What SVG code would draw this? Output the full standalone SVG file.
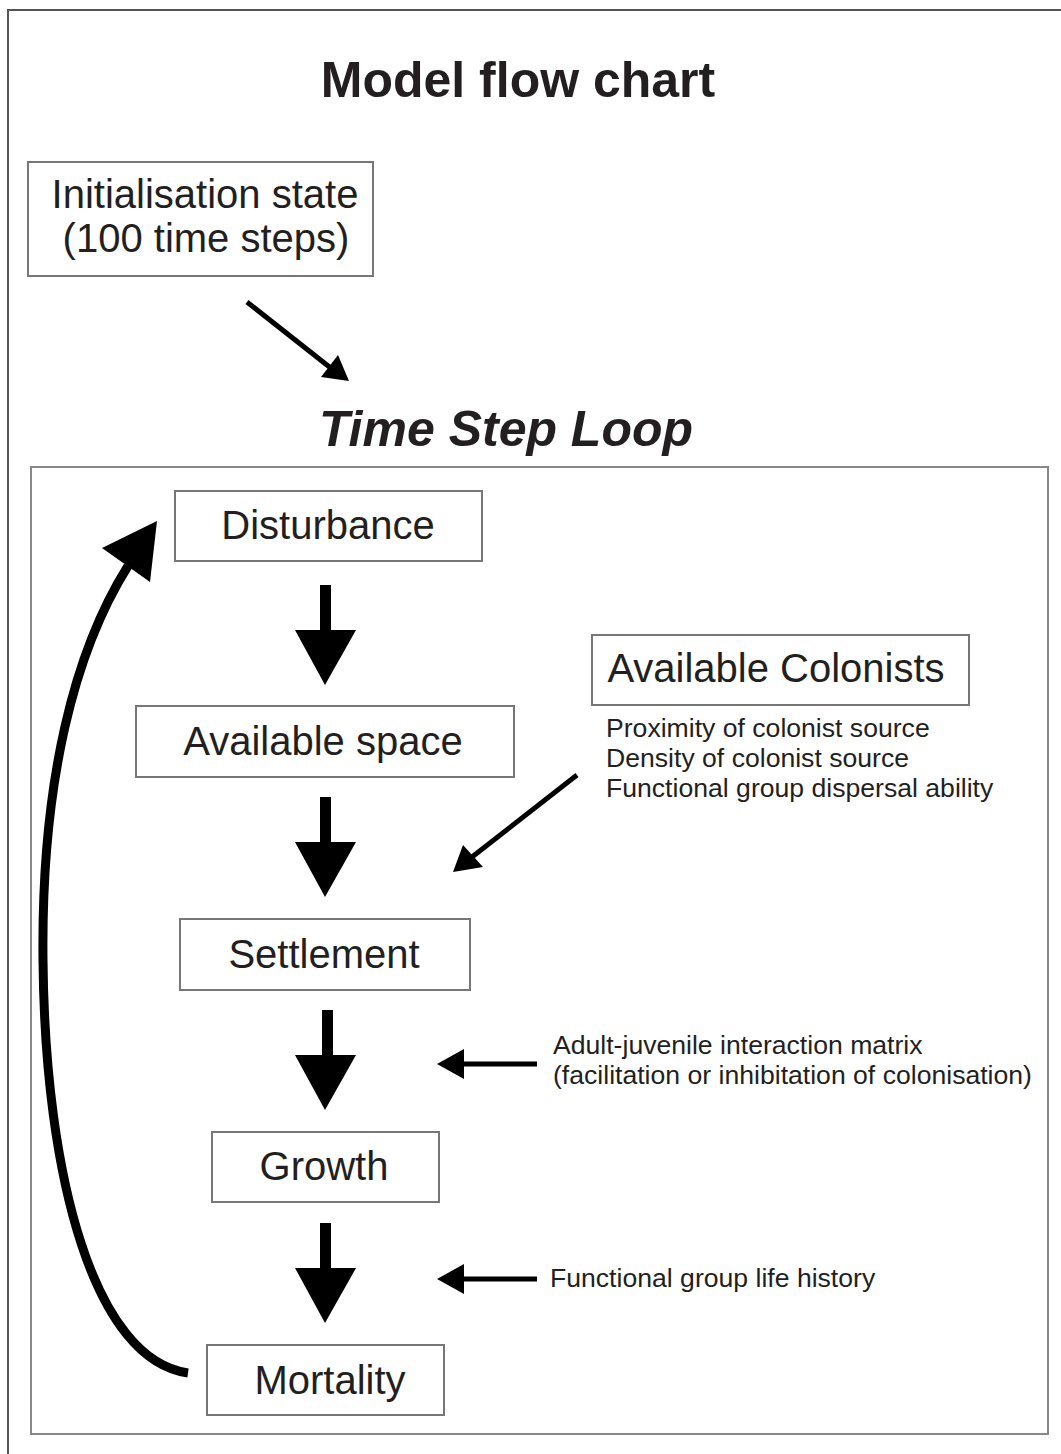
<svg xmlns="http://www.w3.org/2000/svg" width="1061" height="1454" viewBox="0 0 1061 1454">
<style>
text{font-family:"Liberation Sans",Arial,sans-serif;fill:#231f20}
.node{fill:#fff;stroke:#777;stroke-width:2}
.lbl{font-size:40px;text-anchor:middle}
.sm{font-size:26.6px}
.title{font-size:50px;font-weight:bold;text-anchor:middle}
.ln{stroke:#000;fill:none}
.hd{fill:#000}
</style>
<rect x="0" y="0" width="1061" height="1454" fill="#fff"/>
<rect x="8" y="10" width="1100" height="1500" fill="none" stroke="#555" stroke-width="2"/>
<text class="title" x="518" y="97">Model flow chart</text>
<g id="init">
<rect class="node" x="28" y="162" width="345" height="114"/>
<text class="lbl" x="205" y="208">Initialisation state</text>
<text class="lbl" x="206" y="252">(100 time steps)</text>
</g>
<text class="title" x="506" y="446" font-style="italic">Time Step Loop</text>
<rect id="loop" x="31" y="467" width="1017" height="967" fill="none" stroke="#888" stroke-width="2"/>
<g id="disturbance">
<rect class="node" x="175" y="491" width="307" height="70"/>
<text class="lbl" x="328" y="539">Disturbance</text>
</g>
<g id="space">
<rect class="node" x="136" y="706" width="378" height="71"/>
<text class="lbl" x="323" y="755">Available space</text>
</g>
<g id="colonists">
<rect class="node" x="592" y="635" width="377" height="70"/>
<text class="lbl" x="776" y="682">Available Colonists</text>
<text class="sm" x="606" y="737">Proximity of colonist source</text>
<text class="sm" x="606" y="767">Density of colonist source</text>
<text class="sm" x="606" y="797">Functional group dispersal ability</text>
</g>
<g id="settlement">
<rect class="node" x="180" y="919" width="290" height="71"/>
<text class="lbl" x="324" y="968">Settlement</text>
</g>
<g id="growth">
<rect class="node" x="212" y="1132" width="227" height="70"/>
<text class="lbl" x="324" y="1180">Growth</text>
</g>
<g id="mortality">
<rect class="node" x="207" y="1345" width="237" height="70"/>
<text class="lbl" x="330" y="1394">Mortality</text>
</g>
<g id="interaction-label">
<text class="sm" x="553" y="1054">Adult-juvenile interaction matrix</text>
<text class="sm" x="553" y="1084">(facilitation or inhibitation of colonisation)</text>
</g>
<g id="lifehistory-label">
<text class="sm" x="550" y="1287">Functional group life history</text>
</g>
<g id="connectors">
<line class="ln" x1="247" y1="302" x2="332" y2="369" stroke-width="5"/>
<polygon class="hd" points="349,381 321,377 338,355"/>
<rect class="hd" x="320" y="585" width="11" height="46"/>
<polygon class="hd" points="295,630 356,630 325,685"/>
<rect class="hd" x="320" y="797" width="11" height="46"/>
<polygon class="hd" points="295,842 356,842 325,897"/>
<rect class="hd" x="322" y="1010" width="11" height="46"/>
<polygon class="hd" points="295,1055 356,1055 325,1110"/>
<rect class="hd" x="320" y="1223" width="11" height="46"/>
<polygon class="hd" points="295,1268 356,1268 325,1323"/>
<line class="ln" x1="577" y1="775" x2="472" y2="857" stroke-width="5"/>
<polygon class="hd" points="453,872 463,845 483,867"/>
<line class="ln" x1="537" y1="1064" x2="460" y2="1064" stroke-width="5"/>
<polygon class="hd" points="437,1064 464,1049 464,1079"/>
<line class="ln" x1="537" y1="1279" x2="460" y2="1279" stroke-width="5"/>
<polygon class="hd" points="437,1279 464,1264 464,1294"/>
<path class="ln" d="M188,1373 C95,1360 45,1180 43,960 C41,780 75,650 128,566" stroke-width="9"/>
<polygon class="hd" points="157,521 102,548 150,582"/>
</g>
</svg>
